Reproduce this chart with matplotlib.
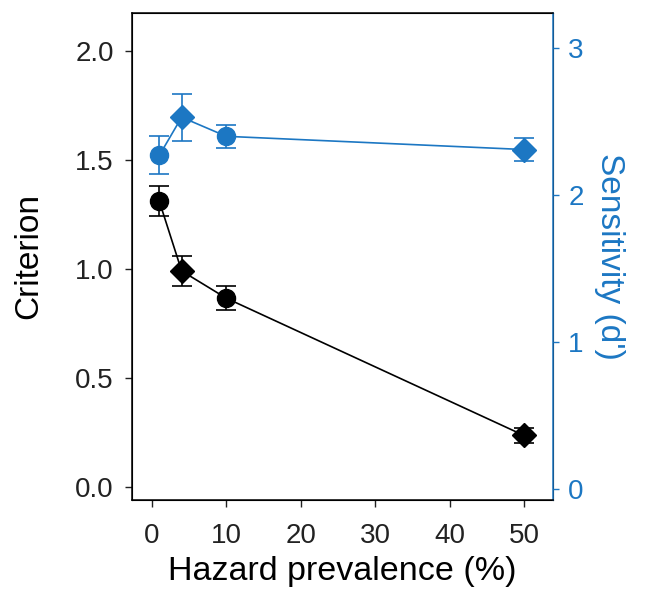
import numpy as np
import matplotlib.pyplot as plt

plt.rcParams['font.family'] = ['Liberation Sans', 'DejaVu Sans']

prevalence = [1, 4, 10, 50]
markers = ['o', 'D', 'o', 'D']

criterion = [1.31, 0.99, 0.865, 0.235]
criterion_err = [0.07, 0.07, 0.055, 0.035]

sensitivity = [2.27, 2.53, 2.40, 2.31]
sensitivity_err = [0.13, 0.16, 0.08, 0.08]

blue = '#1c77c3'

fig = plt.figure(figsize=(6.46, 5.9), dpi=100)
ax = fig.add_axes([0.204, 0.153, 0.652, 0.825])
ax2 = ax.twinx()

# criterion (black, left axis)
ax.plot(prevalence, criterion, color='black', lw=1.2, zorder=2)
for x, y, e, m in zip(prevalence, criterion, criterion_err, markers):
    ax.errorbar(x, y, yerr=e, fmt=m, color='black', ms=13 if m == 'o' else 12,
                capsize=7, elinewidth=1.2, capthick=1.2, zorder=3)

# sensitivity (blue, right axis)
ax2.plot(prevalence, sensitivity, color=blue, lw=1.2, zorder=2)
for x, y, e, m in zip(prevalence, sensitivity, sensitivity_err, markers):
    ax2.errorbar(x, y, yerr=e, fmt=m, color=blue, ms=13 if m == 'o' else 12,
                 capsize=7, elinewidth=1.2, capthick=1.2, zorder=3)

ax.set_xlim(-2.7, 53.9)
ax.set_ylim(-0.06, 2.174)
ax2.set_ylim(-0.075, 3.24)

ax.set_xticks([0, 10, 20, 30, 40, 50])
ax.set_yticks([0.0, 0.5, 1.0, 1.5, 2.0])
ax.set_yticklabels(['0.0', '0.5', '1.0', '1.5', '2.0'])
ax2.set_yticks([0, 1, 2, 3])

ax.tick_params(labelsize=20, length=5, width=1, direction='out', colors='#222222', pad=8)
ax.tick_params(axis='x', pad=12)
ax2.tick_params(labelsize=20, length=4, width=1, direction='out', colors=blue, pad=7)

ax.set_xlabel('Hazard prevalence (%)', fontsize=24.5, color='black', labelpad=5)
ax.set_ylabel('Criterion', fontsize=24, color='black', labelpad=22)
ax2.set_ylabel("Sensitivity (d')", fontsize=24, color=blue, rotation=270, labelpad=30)

for s in ['left', 'top', 'bottom']:
    ax2.spines[s].set_color('black')
    ax2.spines[s].set_linewidth(1.1)
ax2.spines['right'].set_color(blue)
ax2.spines['right'].set_linewidth(1.1)

fig.savefig('out.png', dpi=100)
